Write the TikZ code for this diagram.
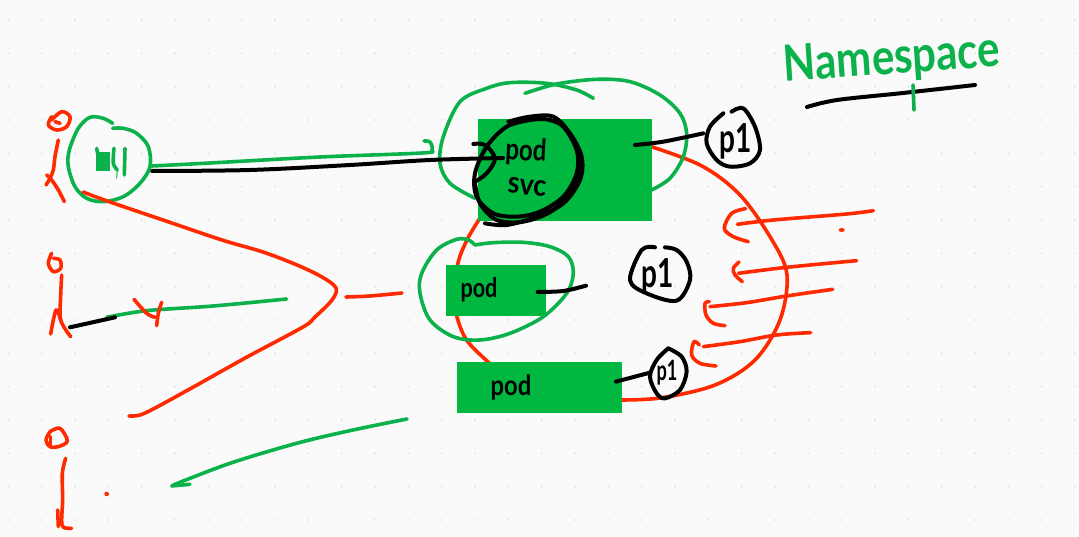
\documentclass[tikz,border=0pt]{standalone}
\usepackage{fontspec}
\setmainfont{Lato}
\definecolor{inkgreen}{HTML}{0BB14A}
\definecolor{boxgreen}{HTML}{00B83F}
\definecolor{inkred}{HTML}{FF2A00}
\definecolor{paper}{HTML}{FAFAFA}
\definecolor{griddot}{HTML}{DEDEDE}
\newcommand{\inkline}[2]{\draw[#1] plot[smooth,tension=0.55] coordinates {#2};}
\newcommand{\fsz}[1]{\fontsize{#1}{#1}\selectfont\bfseries}
\newcommand{\slim}[2]{\scalebox{#1}[1]{#2}}
\tikzset{
  greenink/.style={draw=inkgreen,line width=3.6pt,line cap=round,line join=round},
  redink/.style={draw=inkred,line width=3.6pt,line cap=round,line join=round},
  blackink/.style={draw=black,line width=4pt,line cap=round,line join=round},
  greenbox/.style={fill=boxgreen,draw=none,inner sep=0pt,anchor=north west},
  hand/.style={inner sep=0pt,text=black},
}
\begin{document}
\begin{tikzpicture}[x=1pt,y=-1pt]
\useasboundingbox (0,0) rectangle (1079,537);
\fill[paper] (0,0) rectangle (1079,537);
\foreach \i in {0,...,32}{\foreach \j in {0,...,15}{
  \fill[griddot] (8.33+33.33*\i,20+33.33*\j) circle (1);
}}
% red namespace outline (under the boxes)
\inkline{redink}{(640,143)(700,165)(740,195)(772,240)(787,275)(780,320)(755,360)(715,385)(660,398)(615,400)}
\inkline{redink}{(482,215)(468,238)(458,263)(455,295)(457,317)(468,342)(495,368)}
% boxes
\node[greenbox,minimum width=174pt,minimum height=102pt] (svcbox) at (478,119) {};
\node[greenbox,minimum width=100pt,minimum height=51pt] (podA) at (446,265) {};
\node[greenbox,minimum width=165pt,minimum height=51pt] (podB) at (457,362) {};
% namespace label
\node[inner sep=0pt,text=inkgreen,rotate=4] (nslabel) at (892,60) {\slim{0.84}{\fsz{50}Namespace}};
\inkline{blackink}{(807,107)(837,100)(903,93)(975,85)}
\inkline{greenink}{(913,85)(914,110)}
% svc scope, zoom coordinates
\begin{scope}[shift={(430,70)},x=0.3333pt,y=-0.3333pt]
\inkline{greenink}{(135,385)(60,340)(30,280)(40,200)(90,95)(170,55)(240,38)(350,40)(440,60)(490,85)}
\inkline{greenink}{(285,70)(380,42)(500,28)(600,35)(690,75)(750,130)(770,190)(760,260)(720,325)(665,360)}
\inkline{blackink}{(130,222)(165,225)(195,265)(170,310)(135,335)}
\inkline{blackink}{(235,155)(300,140)(370,140)(420,190)(455,260)(450,330)(400,400)(320,440)(230,465)(165,460)}
\inkline{blackink}{(300,150)(230,170)(170,230)(135,310)(140,380)(190,430)(260,440)(330,425)(400,380)(440,310)(440,240)(400,170)(350,148)(300,150)}
\inkline{blackink}{(135,340)(150,400)(200,450)(280,455)(370,420)(440,340)(455,270)}
\inkline{blackink}{(615,225)(700,215)(820,190)}
\inkline{blackink}{(880,130)(840,170)(830,220)(860,270)(900,290)(960,280)(990,240)(975,170)(940,115)(905,125)}
\end{scope}
\node[hand,rotate=-3] (podtop) at (526,152) {\slim{0.8}{\fsz{30}pod}};
\node[hand,rotate=-5] (svc) at (527,187) {\slim{0.9}{\fsz{30}svc}};
\node[hand] (pA) at (736,141) {\slim{0.7}{\fsz{40}p1}};
% incoming lines
\inkline{greenink}{(152,166)(210,163)(320,157)(422,153)(432,150)(430,142)(424,141)}
\inkline{blackink}{(152,171)(250,170)(350,165)(430,160)(503,158)}
% person 1, zoom coordinates
\begin{scope}[shift={(30,100)},x=0.3333pt,y=-0.3333pt]
\inkline{redink}{(65,60)(95,35)(120,50)(110,80)(80,90)(55,75)(65,50)}
\inkline{redink}{(75,65)(90,70)}
\inkline{redink}{(85,120)(75,170)(70,210)(60,235)(48,255)}
\inkline{redink}{(50,225)(65,240)(85,270)(103,305)}
\inkline{greenink}{(248,70)(220,55)(180,52)(145,85)(118,150)(115,200)(135,260)(170,295)(220,305)(280,290)(330,250)(360,200)(355,140)(320,100)(280,85)(248,85)}
\fill[inkgreen] (198,155) rectangle (240,212);
\inkline{greenink}{(200,145)(205,170)}
\inkline{greenink}{(252,145)(250,190)(262,210)}
\inkline{greenink}{(285,145)(283,225)}
\draw[inkgreen,line width=1pt] (262,205) -- (260,235);
\end{scope}
% big red curve and stick figures 2 and 3, zoom coordinates
\inkline{redink}{(83,192)(110,202)(163,220)(222,240)(263,252)(297,265)(322,277)(336,288)(332,300)(315,317)(303,327)(247,357)(197,385)(157,407)(140,415)(129,416)}
\inkline{redink}{(346,297)(370,296)(402,293)}
\begin{scope}[shift={(30,240)},x=0.3333pt,y=-0.3333pt]
\inkline{redink}{(65,40)(55,70)(70,95)(92,85)(90,60)(70,55)}
\inkline{redink}{(95,105)(92,170)(92,240)(122,290)}
\inkline{redink}{(92,240)(78,210)(62,282)}
\inkline{greenink}{(230,232)(350,212)(550,198)(770,177)}
\inkline{blackink}{(120,262)(255,232)}
\inkline{redink}{(312,178)(350,220)(375,232)}
\inkline{redink}{(395,187)(385,220)(380,257)}
\inkline{redink}{(60,575)(48,600)(60,620)(85,620)(112,603)(90,565)(60,575)}
\inkline{redink}{(62,590)(62,615)}
\inkline{redink}{(107,655)(97,700)(98,780)(95,840)(100,862)(125,865)}
\inkline{redink}{(83,810)(85,860)}
\fill[inkred] (230,762) circle (7);
\inkline{greenink}{(425,738)(480,733)}
\inkline{greenink}{(430,735)(600,670)(800,610)(960,572)(1131,537)}
\end{scope}
% pods, zoom coordinates
\begin{scope}[shift={(400,230)},x=0.3333pt,y=-0.3333pt]
\inkline{greenink}{(225,45)(205,30)(170,28)(110,60)(65,130)(60,190)(90,270)(160,320)(240,330)(330,310)(430,260)(500,190)(520,130)(505,80)(450,50)(370,37)(280,38)(225,45)}
\inkline{blackink}{(413,186)(490,183)(558,167)}
\inkline{blackink}{(765,52)(725,60)(690,150)(740,190)(830,212)(870,150)(860,95)(830,60)(795,52)}
\inkline{blackink}{(805,355)(770,390)(750,440)(770,490)(795,505)(840,480)(860,425)(845,380)(805,355)}
\inkline{blackink}{(648,455)(750,428)}
\end{scope}
\node[hand] (podone) at (479,290) {\slim{0.8}{\fsz{27}pod}};
\node[hand] (pB) at (658,276) {\slim{0.7}{\fsz{40}p1}};
\node[hand] (podtwo) at (511,387) {\slim{0.85}{\fsz{28}pod}};
\node[hand] (pC) at (667,373) {\slim{0.65}{\fsz{28}p1}};
% red incoming arrows, zoom coordinates
\begin{scope}[shift={(680,190)},x=0.3333pt,y=-0.3333pt]
\inkline{redink}{(172,103)(280,90)(500,72)(580,62)}
\inkline{redink}{(197,56)(155,70)(133,115)(160,140)(205,155)}
\inkline{redink}{(175,250)(320,232)(530,212)}
\inkline{redink}{(177,216)(160,235)(165,255)(187,275)}
\inkline{redink}{(90,350)(200,338)(320,318)(458,298)}
\inkline{redink}{(88,335)(75,340)(78,375)(100,400)(135,407)}
\inkline{redink}{(70,470)(180,455)(290,435)(392,428)}
\inkline{redink}{(58,465)(42,455)(35,495)(60,520)(108,528)}
\fill[inkred] (485,120) ellipse (9 and 6);
\end{scope}
\end{tikzpicture}
\end{document}
